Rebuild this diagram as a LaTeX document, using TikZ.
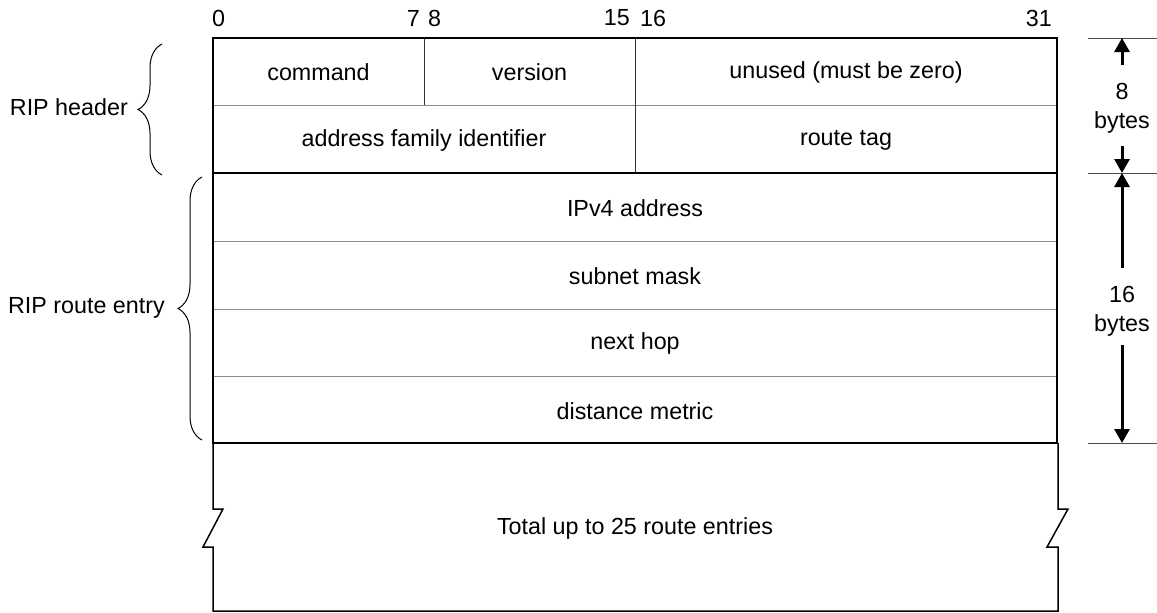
\documentclass[tikz,border=0pt]{standalone}
\usepackage{fontspec}
\setmainfont{Liberation Sans}
\usetikzlibrary{arrows.meta,decorations.pathreplacing}

\begin{document}
\begin{tikzpicture}[x=1pt, y=-1pt, >={Triangle[length=14pt, width=15pt]},
    every node/.style={font=\fontsize{23.3}{29}\selectfont, inner sep=0pt},
    frame/.style={line width=2pt},
    rowline/.style={line width=1pt, black!45},
    colline/.style={line width=1pt, black!80},
    dimarrow/.style={->, line width=3pt},
    tickline/.style={line width=1pt, black!70},
    bracket/.style={decorate, decoration={brace, amplitude=24pt}, line width=1pt}]
	\useasboundingbox (0, 0) rectangle (1157, 613);
	% bit positions
	\node[anchor=west] (b0) at (212, 18) {0};
	\node[anchor=east] (b7) at (420, 18) {7};
	\node[anchor=west] (b8) at (428, 18) {8};
	\node[anchor=east] (b15) at (630, 18) {15};
	\node[anchor=west] (b16) at (640, 18) {16};
	\node[anchor=east] (b31) at (1052, 18) {31};
	% inner lines
	\draw[rowline] (213, 105) -- (1057, 105);
	\draw[rowline] (213, 241) -- (1057, 241);
	\draw[rowline] (213, 309) -- (1057, 309);
	\draw[rowline] (213, 376) -- (1057, 376);
	\draw[colline] (424, 38) -- (424, 105);
	\draw[colline] (635, 38) -- (635, 173);
	% frame
	\draw[frame] (213, 38) rectangle (1057, 443);
	\draw[frame] (213, 173) -- (1057, 173);
	\draw[line width=1.5pt] (213, 443) -- (213, 509) -- (223, 509) -- (203, 547) -- (213, 547)
	  -- (213, 611) -- (1058, 611) -- (1058, 547) -- (1047, 547) -- (1068, 509) -- (1058, 509) -- (1058, 443);
	% fields
	\node (cmd) at (318.5, 72) {command};
	\node (ver) at (529.5, 72) {version};
	\node (unused) at (846, 72) {unused (must be zero)};
	\node (afi) at (424, 140) {address family identifier};
	\node (tag) at (846, 140) {route tag};
	\node (addr) at (635, 208) {IPv4 address};
	\node (mask) at (635, 276) {subnet mask};
	\node (hop) at (635, 343) {next hop};
	\node (metric) at (635, 411) {distance metric};
	\node (total) at (635, 528) {Total up to 25 route entries};
	% braces
	\draw[bracket] (162, 175) -- (162, 44);
	\node[anchor=east] (hdr) at (128, 107) {RIP header};
	\draw[bracket] (202, 440) -- (202, 177);
	\node[anchor=east] (entry) at (165, 308) {RIP route entry};
	% sizes
	\coordinate (t0) at (1122, 38);
	\coordinate (t1) at (1122, 173);
	\coordinate (t2) at (1122, 443);
	\draw[tickline] (1088, 38) -- (1157, 38);
	\draw[tickline] (1088, 173) -- (1157, 173);
	\draw[tickline] (1088, 443) -- (1157, 443);
	\node[align=center] (hsize) at (1122, 108) {8\\bytes};
	\node[align=center] (esize) at (1122, 311) {16\\bytes};
	\draw[dimarrow] (1122, 65) -- (t0);
	\draw[dimarrow] (1122, 146) -- (t1);
	\draw[dimarrow] (1122, 268) -- (t1);
	\draw[dimarrow] (1122, 345) -- (t2);
\end{tikzpicture}
\end{document}
